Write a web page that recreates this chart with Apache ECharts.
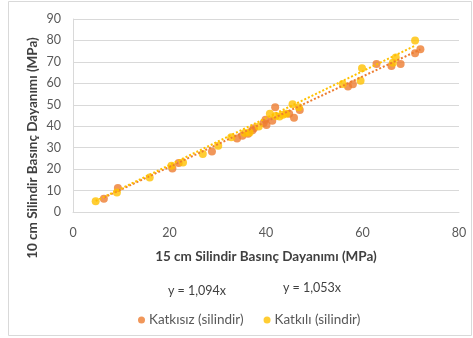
<!DOCTYPE html>
<html>
<head>
<meta charset="utf-8">
<script src="https://cdn.jsdelivr.net/npm/echarts@6/dist/echarts.min.js"></script>
<style>
  html, body { margin: 0; padding: 0; background: #ffffff; }
  #chart { width: 473px; height: 338px; }
</style>
</head>
<body>
<div id="chart"></div>
<script>
// 15 cm vs 10 cm cylinder compressive strength (MPa)
const katkisizX = [6.4, 9.3, 20.6, 21.9, 28.8, 34.0, 35.1, 36.3, 37.2, 37.5, 39.5, 39.9, 40.1, 41.3, 41.9, 44.8, 45.8, 47.0, 57.0, 58.0, 62.9, 66.0, 67.9, 70.9, 72.0];
const katkisizY = [6.2, 11.2, 20.3, 22.8, 28.2, 34.3, 35.6, 36.5, 38.1, 39.0, 41.5, 43.0, 40.6, 42.5, 48.9, 45.8, 44.0, 47.6, 58.5, 59.6, 69.0, 68.1, 69.0, 74.0, 75.9];

const katkiliX = [4.7, 9.1, 15.9, 20.4, 22.8, 26.9, 30.1, 32.8, 35.6, 36.6, 38.5, 40.8, 42.0, 42.8, 43.5, 44.2, 45.5, 46.8, 55.9, 59.6, 59.9, 66.3, 66.9, 70.9];
const katkiliY = [5.0, 9.1, 16.1, 21.6, 23.1, 27.0, 30.9, 34.9, 36.8, 37.1, 39.9, 45.8, 44.8, 44.5, 45.3, 45.8, 50.3, 48.9, 59.7, 61.2, 67.0, 69.6, 72.1, 80.0];

// Zero-intercept trendline slopes
const slopeKatkisiz = 1.053;
const slopeKatkili = 1.094;

const xTicks = [0, 20, 40, 60, 80];
const yTicks = [0, 10, 20, 30, 40, 50, 60, 70, 80, 90];

const names = ['Katkısız (silindir)', 'Katkılı (silindir)'];
const colors = ['#ED7D31', '#FFC000'];
const FONT = 'Lato, "Open Sans", sans-serif';

function pairs(xs, ys) { return xs.map((x, i) => [x, ys[i]]); }
function trend(xs, k) {
  const lo = Math.min(...xs), hi = Math.max(...xs);
  return [[lo, k * lo], [hi, k * hi]];
}

const chart = echarts.init(document.getElementById('chart'), null, { renderer: 'canvas' });

chart.setOption({
  animation: false,
  backgroundColor: '#ffffff',
  grid: { left: 73, right: 14, top: 19, bottom: 126, containLabel: false },
  xAxis: {
    type: 'value',
    min: xTicks[0], max: xTicks[xTicks.length - 1], interval: 20,
    axisLine: { show: true, lineStyle: { color: '#d9d9d9', width: 1 } },
    axisTick: { show: false },
    splitLine: { show: false },
    axisLabel: { color: '#595959', fontSize: 12.5, fontFamily: FONT, margin: 14 }
  },
  yAxis: {
    type: 'value',
    min: yTicks[0], max: yTicks[yTicks.length - 1], interval: 10,
    axisLine: { show: true, lineStyle: { color: '#d9d9d9', width: 1 } },
    axisTick: { show: false },
    splitLine: { show: true, lineStyle: { color: '#d9d9d9', width: 1 } },
    axisLabel: { color: '#595959', fontSize: 12.5, fontFamily: FONT, margin: 12 }
  },
  legend: {
    data: names,
    top: 308,
    left: 133,
    icon: 'circle',
    itemWidth: 7, itemHeight: 7,
    itemGap: 20,
    textStyle: { color: '#595959', fontSize: 13.5, fontFamily: FONT, padding: [0, 0, 0, -1] }
  },
  series: [
    {
      name: names[0], type: 'scatter', symbol: 'circle', symbolSize: 8,
      itemStyle: { color: colors[0] },
      data: pairs(katkisizX, katkisizY), z: 2
    },
    {
      name: names[1], type: 'scatter', symbol: 'circle', symbolSize: 8,
      itemStyle: { color: colors[1] },
      data: pairs(katkiliX, katkiliY), z: 3
    },
    {
      name: 'trend1', type: 'line', showSymbol: false, symbol: 'none', silent: true,
      lineStyle: { color: colors[0], width: 2, type: [2, 2] },
      data: trend(katkisizX, slopeKatkisiz), z: 4
    },
    {
      name: 'trend2', type: 'line', showSymbol: false, symbol: 'none', silent: true,
      lineStyle: { color: colors[1], width: 2, type: [2, 2] },
      data: trend(katkiliX, slopeKatkili), z: 4
    }
  ],
  graphic: [
    {
      type: 'rect', silent: true, z: -10,
      shape: { x: 8.5, y: 1.5, width: 463, height: 334 },
      style: { fill: 'none', stroke: '#d9d9d9', lineWidth: 1 }
    },
    {
      type: 'text', x: 266, y: 257,
      style: { text: '15 cm Silindir Basınç Dayanımı (MPa)', fill: '#404040',
        font: 'bold 13.5px ' + FONT, textAlign: 'center', textVerticalAlign: 'middle' }
    },
    {
      type: 'text', x: 33, y: 148, rotation: Math.PI / 2,
      style: { text: '10 cm Silindir Basınç Dayanımı (MPa)', fill: '#404040',
        font: 'bold 13.5px ' + FONT, textAlign: 'center', textVerticalAlign: 'middle' }
    },
    {
      type: 'text', x: 197, y: 291,
      style: { text: 'y = ' + slopeKatkili.toFixed(3).replace('.', ',') + 'x', fill: '#404040',
        font: '12.5px ' + FONT, textAlign: 'center', textVerticalAlign: 'middle' }
    },
    {
      type: 'text', x: 312, y: 288,
      style: { text: 'y = ' + slopeKatkisiz.toFixed(3).replace('.', ',') + 'x', fill: '#404040',
        font: '12.5px ' + FONT, textAlign: 'center', textVerticalAlign: 'middle' }
    }
  ]
});
</script>
</body>
</html>
